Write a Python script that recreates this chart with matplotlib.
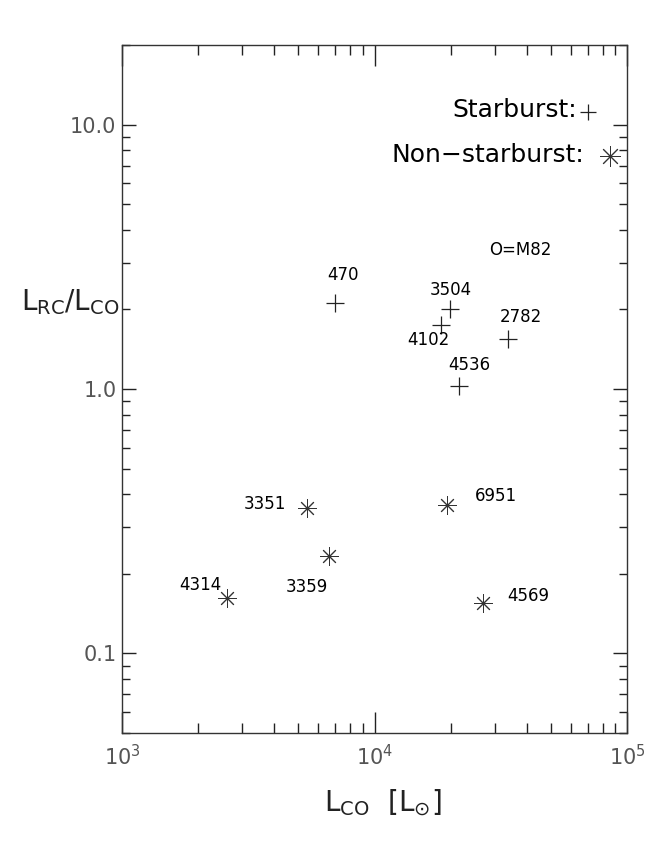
import numpy as np
import matplotlib
matplotlib.use("Agg")
import matplotlib.pyplot as plt
from matplotlib.ticker import FixedLocator, FixedFormatter, NullFormatter, LogLocator

# Starburst galaxies (plus symbols)
sb_names = ["470", "3504", "4102", "2782", "4536"]
sb_lco = [6980, 19900, 18300, 33900, 21600]
sb_ratio = [2.11, 2.00, 1.74, 1.54, 1.03]

# Non-starburst galaxies (asterisks)
nsb_names = ["3351", "3359", "4314", "6951", "4569"]
nsb_lco = [5390, 6600, 2610, 19300, 27000]
nsb_ratio = [0.354, 0.234, 0.162, 0.364, 0.155]

# label offsets in pixels from each point
sb_off = [(8, 28), (1, 19), (-12, -15), (12, 22), (10, 21)]
nsb_off = [(-42, 4), (-22, -31), (-27, 13), (49, 9), (45, 7)]

ytick_vals = [0.1, 1.0, 10.0]
ytick_labels = ["0.1", "1.0", "10.0"]
xtick_vals = [1e3, 1e4, 1e5]
xtick_labels = [r"$10^3$", r"$10^4$", r"$10^5$"]

star = (8, 2, 0)
gray = "#555555"

fig = plt.figure(figsize=(6.62, 8.58), dpi=100, facecolor="white")
ax = fig.add_axes([122/662, 1-733/858, 505/662, 688/858])

ax.plot(sb_lco, sb_ratio, linestyle="none", marker="+", markersize=13,
        markeredgewidth=0.9, color="#222222")
ax.plot(nsb_lco, nsb_ratio, linestyle="none", marker=star, markersize=13,
        markeredgewidth=0.7, color="#333333")

for name, x, y, off in zip(sb_names, sb_lco, sb_ratio, sb_off):
    ax.annotate(name, (x, y), xytext=off, textcoords="offset pixels",
                ha="center", va="center", fontsize=12, color="black")
for name, x, y, off in zip(nsb_names, nsb_lco, nsb_ratio, nsb_off):
    ax.annotate(name, (x, y), xytext=off, textcoords="offset pixels",
                ha="center", va="center", fontsize=12, color="black")

ax.set_xscale("log")
ax.set_yscale("log")
ax.set_xlim(1e3, 1e5)
ax.set_ylim(0.05, 20)

ax.yaxis.set_major_locator(FixedLocator(ytick_vals))
ax.yaxis.set_major_formatter(FixedFormatter(ytick_labels))
ax.yaxis.set_minor_locator(LogLocator(base=10, subs=np.arange(2, 10), numticks=20))
ax.yaxis.set_minor_formatter(NullFormatter())
ax.xaxis.set_major_locator(FixedLocator(xtick_vals))
ax.xaxis.set_major_formatter(FixedFormatter(xtick_labels))
ax.xaxis.set_minor_locator(LogLocator(base=10, subs=np.arange(2, 10), numticks=20))
ax.xaxis.set_minor_formatter(NullFormatter())

ax.tick_params(axis="both", which="both", direction="in", top=True, right=True,
               color="#222222", width=1.0)
ax.tick_params(axis="y", which="major", length=10, labelsize=15, labelcolor=gray, pad=4)
ax.tick_params(axis="y", which="minor", length=6)
ax.tick_params(axis="x", which="major", length=15, labelsize=15, labelcolor=gray, pad=8)
ax.tick_params(axis="x", which="minor", length=7)
for s in ax.spines.values():
    s.set_color("#333333")
    s.set_linewidth(1.0)

# legend drawn by hand
ax.text(0.901, 0.905, "Starburst:", transform=ax.transAxes, ha="right", va="center",
        fontsize=18, color="black")
ax.plot([0.923], [0.9026], transform=ax.transAxes, marker="+", markersize=12,
        markeredgewidth=0.9, color="#222222", clip_on=False)
ax.text(0.915, 0.840, "Non\u2212starburst:", transform=ax.transAxes, ha="right",
        va="center", fontsize=18, color="black")
ax.plot([0.966], [0.8387], transform=ax.transAxes, marker=star, markersize=15,
        markeredgewidth=0.7, color="#333333", clip_on=False)

ax.text(0.788, 0.702, "O=M82", transform=ax.transAxes, ha="center", va="center",
        fontsize=12, color="black")

fig.text(120/662, 1-310/858, r"$\mathrm{L}_{\mathrm{RC}}/\mathrm{L}_{\mathrm{CO}}$",
         ha="right", va="baseline", fontsize=20, color="#222222")
fig.text(383/662, 1-803/858, r"$\mathrm{L}_{\mathrm{CO}}\ \ [\mathrm{L}_{\odot}]$",
         ha="center", va="center", fontsize=20, color="#222222")

fig.savefig("out.png", dpi=100, facecolor="white")
